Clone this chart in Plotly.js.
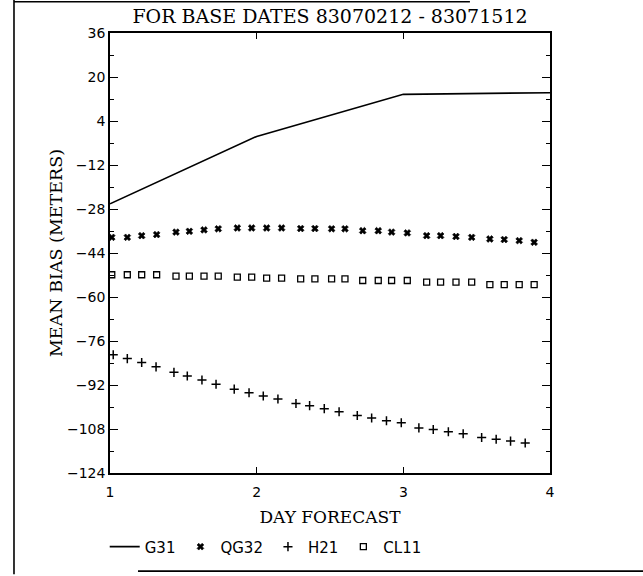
<!DOCTYPE html>
<html>
<head>
<meta charset="utf-8">
<script src="https://cdn.plot.ly/plotly-3.0.1.min.js"></script>
<style>html,body{margin:0;padding:0;background:#fff;}#chart{width:643px;height:576px;}</style>
</head>
<body>
<div id="chart"></div>
<script>
// ---- data ----
const titleText = 'FOR BASE DATES 83070212 - 83071512';
const xTickVals = [1, 2, 3, 4];
const xTickText = ['1', '2', '3', '4'];
const yTickVals = [36, 20, 4, -12, -28, -44, -60, -76, -92, -108, -124];

// G31 (solid line)
const g31Days = [1, 2, 3, 4];
const g31Bias = [-26.1, -1.6, 13.7, 14.3];

// QG32 and CL11 plotted symbol positions (days)
const markerDays = [1.012, 1.118, 1.216, 1.318, 1.450, 1.541, 1.641, 1.738,
  1.868, 1.966, 2.068, 2.170, 2.300, 2.397, 2.511, 2.602, 2.723, 2.829,
  2.920, 3.027, 3.159, 3.254, 3.359, 3.466, 3.590, 3.688, 3.790, 3.892];
const qg32Bias = [-38.3, -38.3, -37.7, -37.3, -36.4, -36.1, -35.6, -35.2,
  -34.9, -34.9, -34.9, -34.9, -35.1, -35.1, -35.2, -35.2, -35.9, -35.9,
  -36.4, -36.7, -37.7, -37.7, -38.0, -38.3, -38.9, -39.1, -39.5, -40.1];
const cl11Bias = [-51.9, -51.9, -51.9, -51.9, -52.4, -52.4, -52.4, -52.4,
  -52.8, -52.8, -53.1, -53.1, -53.4, -53.4, -53.4, -53.4, -54.0, -54.0,
  -54.0, -54.0, -54.6, -54.6, -54.6, -54.6, -55.5, -55.5, -55.5, -55.5];

// H21 plotted symbol positions
const h21Days = [1.022, 1.118, 1.216, 1.314, 1.436, 1.527, 1.627, 1.723,
  1.847, 1.948, 2.045, 2.145, 2.268, 2.361, 2.461, 2.562, 2.686, 2.784,
  2.885, 2.986, 3.106, 3.204, 3.307, 3.408, 3.534, 3.633, 3.731, 3.831];
const h21Bias = [-81.0, -82.4, -83.8, -85.4, -87.4, -88.7, -90.2, -91.7,
  -93.5, -94.8, -96.0, -97.1, -98.7, -99.5, -100.6, -101.7, -103.1, -104.0,
  -105.0, -105.7, -107.6, -108.2, -109.0, -109.7, -111.1, -111.7, -112.4, -113.1];

const seriesNames = ['G31', 'QG32', 'H21', 'CL11'];

// ---- traces ----
const traces = [
  {x: g31Days, y: g31Bias, name: seriesNames[0], type: 'scatter', mode: 'lines',
   line: {color: '#000', width: 1.6}},
  {x: markerDays, y: qg32Bias, name: seriesNames[1], type: 'scatter', mode: 'markers',
   marker: {symbol: 'x', size: 6, color: '#000', line: {width: 0.6, color: '#000'}}},
  {x: h21Days, y: h21Bias, name: seriesNames[2], type: 'scatter', mode: 'markers',
   marker: {symbol: 'cross-thin-open', size: 6.5, color: '#000', line: {width: 1.5, color: '#000'}}},
  {x: markerDays, y: cl11Bias, name: seriesNames[3], type: 'scatter', mode: 'markers',
   marker: {symbol: 'square-open', size: 6, color: '#000', line: {width: 1.3, color: '#000'}}}
];

const serif = 'DejaVu Serif, Liberation Serif, serif';
const sans = 'DejaVu Sans, sans-serif';

const frame = {color: '#000', width: 1.6};

const layout = {
  width: 643, height: 576, autosize: false,
  paper_bgcolor: '#fff', plot_bgcolor: '#fff',
  margin: {l: 110, r: 93, t: 33, b: 101, pad: 0},
  showlegend: true,
  title: {text: titleText, font: {family: serif, size: 19, color: '#000'},
          x: 0.5, xref: 'paper', xanchor: 'center', y: 0.971, yref: 'container', yanchor: 'middle'},
  xaxis: {
    range: [1, 4], tickvals: xTickVals, ticktext: xTickText,
    showgrid: false, zeroline: false,
    showline: true, linecolor: '#000', linewidth: 1.8, mirror: 'ticks',
    ticks: 'inside', ticklen: 6, tickwidth: 1, tickcolor: '#000',
    ticklabelstandoff: 5,
    tickfont: {family: sans, size: 14, color: '#000'},
    title: {text: 'DAY FORECAST', font: {family: serif, size: 17, color: '#000'}, standoff: 12}
  },
  yaxis: {
    range: [-124, 36], tickvals: yTickVals,
    showgrid: false, zeroline: false,
    showline: true, linecolor: '#000', linewidth: 1.8, mirror: 'ticks',
    ticks: 'inside', ticklen: 8, tickwidth: 1, tickcolor: '#000',
    minor: {dtick: 8, tick0: -124, ticks: 'inside', ticklen: 4, tickwidth: 1, tickcolor: '#000', showgrid: false},
    tickfont: {family: sans, size: 14, color: '#000'},
    title: {text: 'MEAN BIAS (METERS)', font: {family: serif, size: 17.5, color: '#000'}, standoff: 0}
  },
  legend: {orientation: 'h', x: -0.012, xanchor: 'left', y: -0.168, yanchor: 'middle',
           font: {family: sans, size: 15, color: '#000'}, bgcolor: 'rgba(0,0,0,0)',
           itemwidth: 30, tracegroupgap: 0},
  shapes: [
    {type: 'line', xref: 'paper', yref: 'paper', x0: -0.2182, x1: -0.2182, y0: 1.076, y1: -0.23, line: frame},
    {type: 'line', xref: 'paper', yref: 'paper', x0: -0.2182, x1: 0.818, y0: 1.071, y1: 1.071, line: frame},
    {type: 'line', xref: 'paper', yref: 'paper', x0: 0.0636, x1: 1.22, y0: -0.223, y1: -0.223, line: frame}
  ]
};

Plotly.newPlot('chart', traces, layout, {displayModeBar: false, staticPlot: true});
</script>
</body>
</html>
